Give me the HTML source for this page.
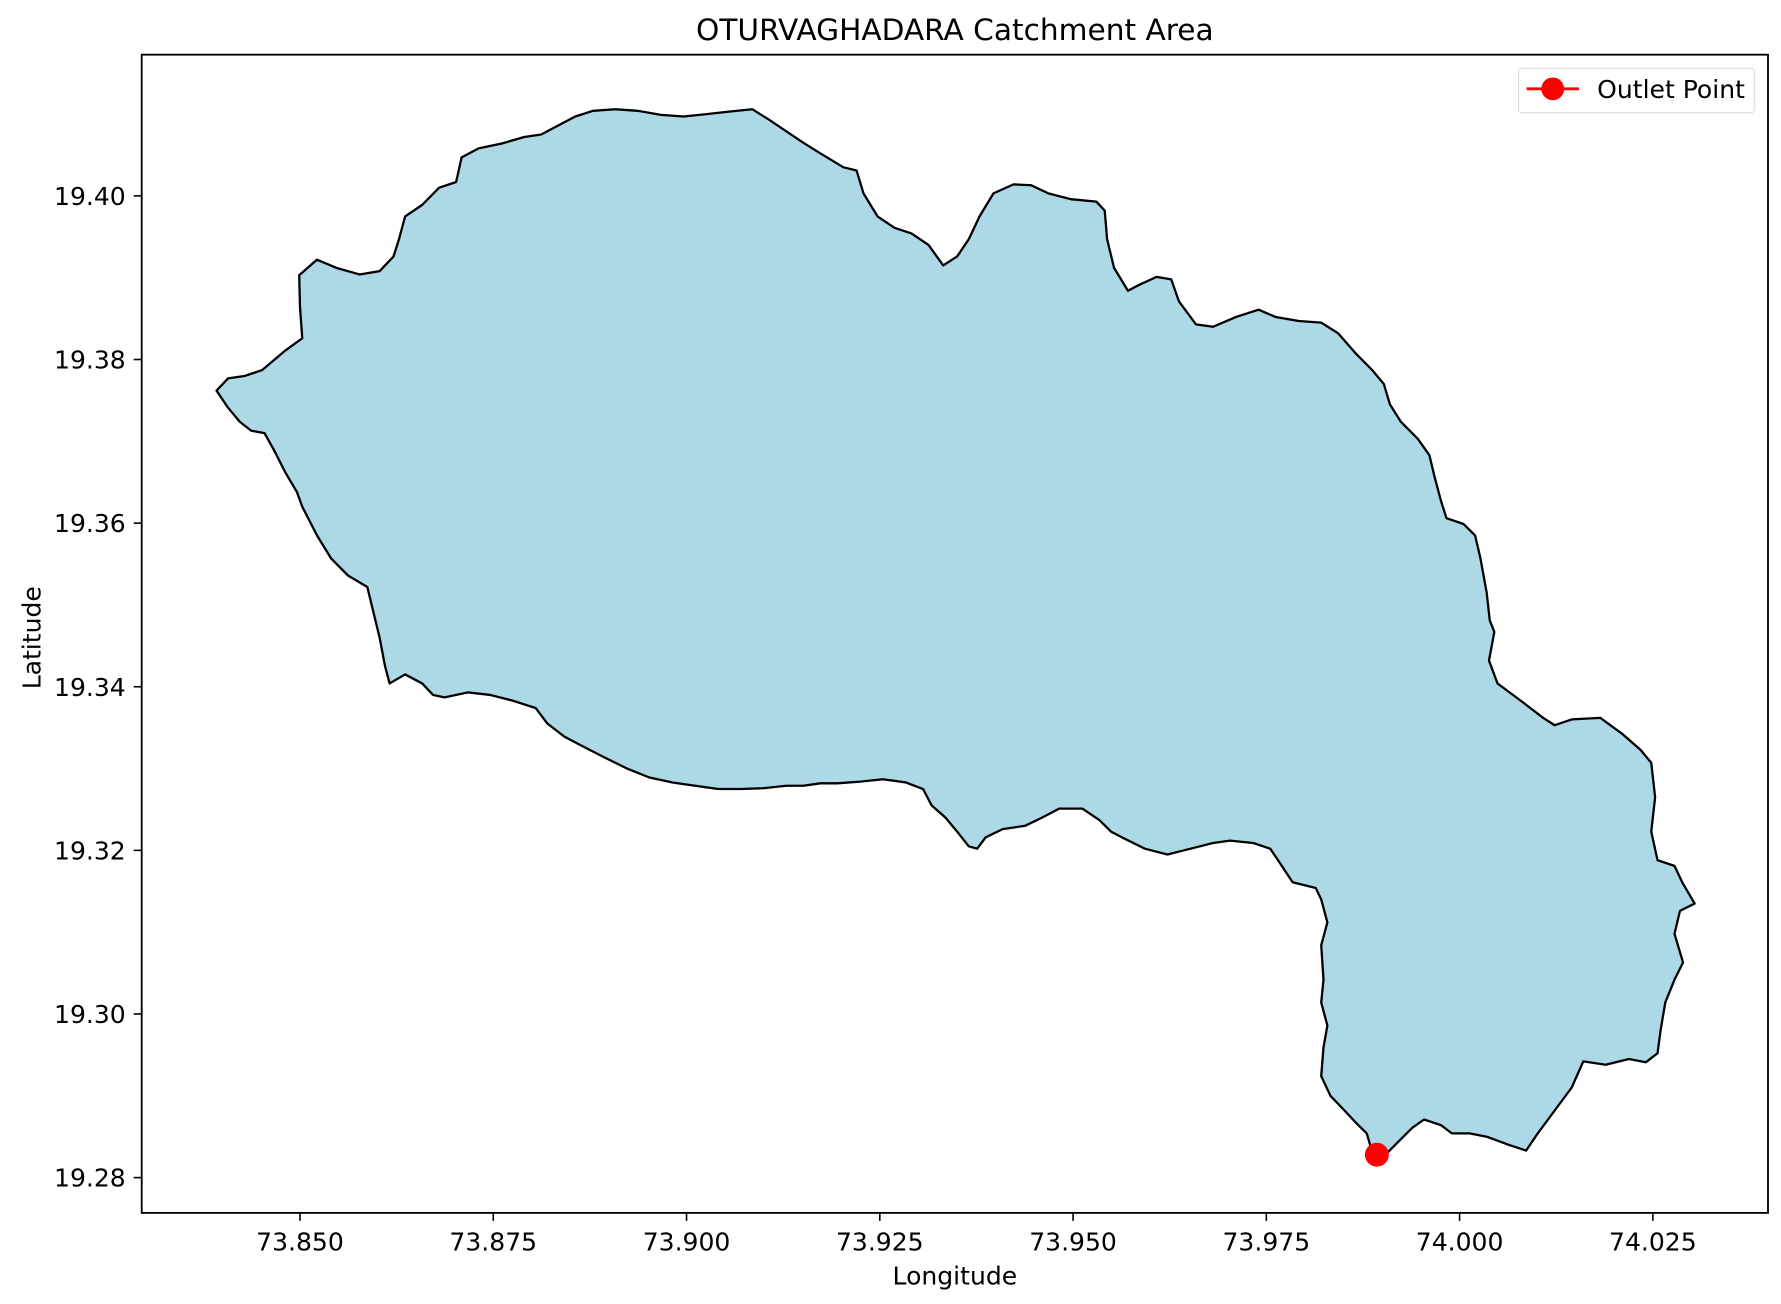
<!DOCTYPE html>
<html><head><meta charset="utf-8"><style>
html,body{margin:0;padding:0;background:#fff}
svg{display:block}
text{font-family:"DejaVu Sans","Liberation Sans",sans-serif;fill:#000}
</style></head><body>
<svg id="chart" width="1781" height="1304" viewBox="0 0 1563 1145" xmlns="http://www.w3.org/2000/svg">
<rect width="1563" height="1145" fill="#fff"/>
<text x="838" y="35" font-size="26" text-anchor="middle">OTURVAGHADARA Catchment Area</text>
<g id="plot"></g>
<rect x="124" y="48" width="1428" height="1017" fill="none" stroke="#000" stroke-width="1.6"/>
<g id="xticks"></g><g id="yticks"></g>
<text x="838" y="1128" font-size="22" text-anchor="middle">Longitude</text>
<text x="0" y="0" font-size="22" text-anchor="middle" transform="translate(35,560) rotate(-90)">Latitude</text>
<g>
<rect x="1333" y="60" width="207" height="39" rx="3" fill="#fff" stroke="#ddd" stroke-width="1"/>
<line x1="1340" y1="78" x2="1386" y2="78" stroke="#f00" stroke-width="2.5"/>
<circle cx="1363" cy="78" r="10" fill="#f00"/>
<text x="1402" y="86" font-size="22">Outlet Point</text>
</g>
</svg>
<script>
const xTicks=[73.850,73.875,73.900,73.925,73.950,73.975,74.000,74.025];
const yTicks=[19.28,19.30,19.32,19.34,19.36,19.38,19.40];
const boundaryLon=[73.8392,73.8407,73.8429,73.8451,73.8481,73.8503,73.8500,73.8499,73.8522,73.8547,73.8577,73.8603,73.8621,73.8628,73.8636,73.8658,73.8680,73.8702,73.8709,73.8731,73.8761,73.8790,73.8812,73.8834,73.8856,73.8879,73.8908,73.8937,73.8967,73.8996,73.9026,73.9055,73.9085,73.9107,73.9129,73.9151,73.9173,73.9203,73.9220,73.9229,73.9247,73.9269,73.9291,73.9313,73.9332,73.9350,73.9365,73.9379,73.9397,73.9423,73.9446,73.9468,73.9497,73.9530,73.9541,73.9544,73.9553,73.9571,73.9585,73.9608,73.9627,73.9637,73.9659,73.9681,73.9711,73.9740,73.9762,73.9792,73.9821,73.9843,73.9865,73.9887,73.9902,73.9910,73.9924,73.9946,73.9961,73.9968,73.9976,73.9983,74.0005,74.0020,74.0027,74.0035,74.0039,74.0045,74.0038,74.0049,74.0079,74.0108,74.0123,74.0145,74.0182,74.0211,74.0234,74.0248,74.0253,74.0248,74.0256,74.0278,74.0288,74.0304,74.0285,74.0278,74.0289,74.0278,74.0266,74.0260,74.0256,74.0241,74.0219,74.0189,74.0160,74.0145,74.0123,74.0101,74.0086,74.0064,74.0035,74.0013,73.9990,73.9976,73.9954,73.9939,73.9924,73.9902,73.9887,73.9880,73.9865,73.9851,73.9833,73.9821,73.9824,73.9829,73.9821,73.9824,73.9821,73.9829,73.9821,73.9814,73.9784,73.9770,73.9755,73.9733,73.9703,73.9681,73.9652,73.9622,73.9593,73.9563,73.9549,73.9534,73.9512,73.9482,73.9460,73.9438,73.9409,73.9387,73.9376,73.9365,73.9350,73.9335,73.9317,73.9306,73.9284,73.9254,73.9225,73.9195,73.9173,73.9151,73.9129,73.9099,73.9070,73.9041,73.9011,73.8982,73.8952,73.8923,73.8893,73.8864,73.8842,73.8820,73.8805,73.8775,73.8746,73.8717,73.8687,73.8672,73.8658,73.8636,73.8616,73.8610,73.8603,73.8594,73.8587,73.8562,73.8540,73.8522,73.8503,73.8496,73.8481,73.8466,73.8454,73.8437,73.8422,73.8407];
const boundaryLat=[19.3762,19.3777,19.3780,19.3787,19.3811,19.3826,19.3864,19.3903,19.3922,19.3912,19.3904,19.3908,19.3926,19.3947,19.3975,19.3989,19.4010,19.4017,19.4047,19.4058,19.4064,19.4072,19.4075,19.4086,19.4097,19.4104,19.4106,19.4104,19.4099,19.4097,19.4100,19.4103,19.4106,19.4093,19.4079,19.4065,19.4052,19.4035,19.4031,19.4003,19.3975,19.3961,19.3954,19.3940,19.3915,19.3926,19.3947,19.3975,19.4003,19.4014,19.4013,19.4003,19.3996,19.3993,19.3982,19.3947,19.3912,19.3884,19.3891,19.3901,19.3898,19.3871,19.3843,19.3840,19.3852,19.3861,19.3852,19.3847,19.3845,19.3832,19.3808,19.3787,19.3770,19.3745,19.3724,19.3703,19.3683,19.3655,19.3627,19.3606,19.3599,19.3585,19.3557,19.3515,19.3481,19.3467,19.3432,19.3404,19.3383,19.3362,19.3353,19.3360,19.3362,19.3342,19.3323,19.3307,19.3265,19.3223,19.3188,19.3181,19.3161,19.3135,19.3126,19.3098,19.3063,19.3042,19.3014,19.2980,19.2952,19.2941,19.2945,19.2938,19.2942,19.2910,19.2882,19.2854,19.2833,19.2840,19.2850,19.2854,19.2854,19.2864,19.2871,19.2861,19.2847,19.2826,19.2831,19.2854,19.2868,19.2882,19.2900,19.2924,19.2959,19.2986,19.3014,19.3042,19.3084,19.3112,19.3140,19.3154,19.3161,19.3181,19.3202,19.3209,19.3212,19.3209,19.3202,19.3195,19.3202,19.3216,19.3223,19.3237,19.3251,19.3251,19.3240,19.3230,19.3226,19.3216,19.3202,19.3205,19.3223,19.3240,19.3255,19.3275,19.3283,19.3287,19.3284,19.3282,19.3282,19.3279,19.3279,19.3276,19.3275,19.3275,19.3279,19.3283,19.3289,19.3300,19.3314,19.3328,19.3339,19.3355,19.3374,19.3383,19.3390,19.3393,19.3387,19.3390,19.3404,19.3415,19.3404,19.3425,19.3460,19.3495,19.3522,19.3536,19.3557,19.3585,19.3620,19.3638,19.3662,19.3690,19.3710,19.3713,19.3724,19.3741];
const outletLon=[73.9893];
const outletLat=[19.2828];

const NS='http://www.w3.org/2000/svg';
function xScale(v){return 263+(v-73.85)/0.025*169.7;}
function yScale(v){return 172+(19.40-v)/0.02*143.67;}
function mk(tag,attrs,parent){const e=document.createElementNS(NS,tag);for(const k in attrs)e.setAttribute(k,attrs[k]);parent.appendChild(e);return e;}

const plot=document.getElementById('plot');
let d='';
for(let i=0;i<boundaryLon.length;i++){d+=(i?'L':'M')+xScale(boundaryLon[i]).toFixed(1)+','+yScale(boundaryLat[i]).toFixed(1);}
d+='Z';
const poly=mk('path',{d:d,fill:'#add8e6',stroke:'#000','stroke-width':2,'stroke-linejoin':'round'},plot);


for(let i=0;i<outletLon.length;i++){
  const c=mk('circle',{cx:xScale(outletLon[i]),cy:yScale(outletLat[i]),r:10.5,fill:'#f00'},plot);
  
  
}
const xg=document.getElementById('xticks');
xTicks.forEach(v=>{
  const x=xScale(v);
  const l=mk('line',{x1:x,x2:x,y1:1065,y2:1072,stroke:'#000','stroke-width':1.4},xg);
  
  
  const t=mk('text',{x:x,y:1098,'font-size':22,'text-anchor':'middle'},xg);
  t.textContent=v.toFixed(3);
  
  
});
const yg=document.getElementById('yticks');
yTicks.forEach(v=>{
  const y=yScale(v);
  const l=mk('line',{x1:117,x2:124,y1:y,y2:y,stroke:'#000','stroke-width':1.4},yg);
  
  
  const t=mk('text',{x:110,y:y+8,'font-size':22,'text-anchor':'end'},yg);
  t.textContent=v.toFixed(2);
  
  
});
</script>
</body></html>
